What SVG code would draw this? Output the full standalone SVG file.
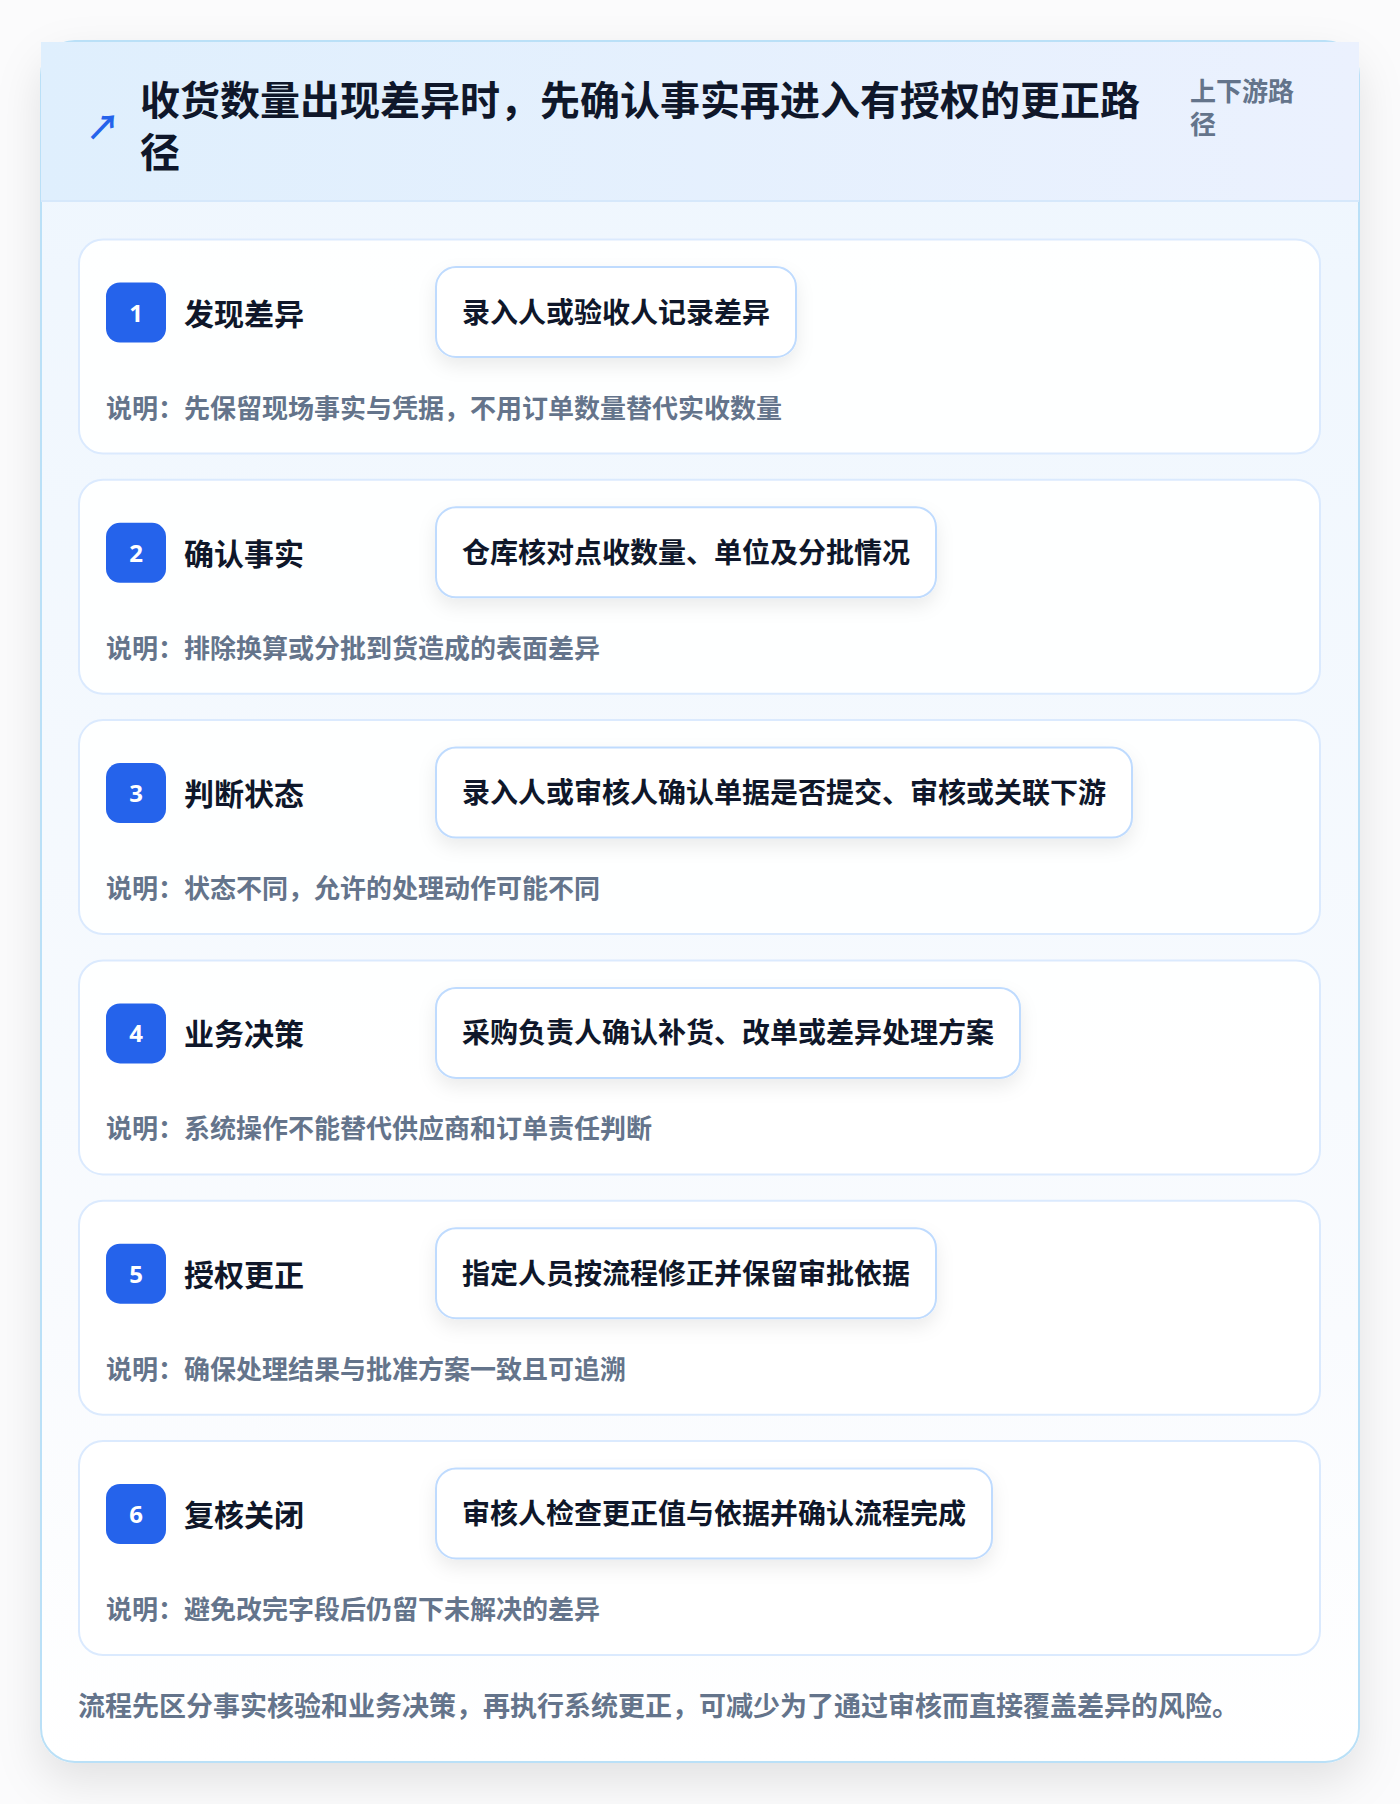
<svg xmlns="http://www.w3.org/2000/svg" width="1400" height="1804" viewBox="0 0 1400 1804">
<defs>
<linearGradient id="hdrGrad" x1="0" y1="0" x2="1" y2="0">
<stop offset="0" stop-color="#dfeffd"/>
<stop offset="1" stop-color="#ebf1fe"/>
</linearGradient>
<linearGradient id="bodyGrad" x1="0" y1="0" x2="0" y2="1">
<stop offset="0" stop-color="#eef6fe"/>
<stop offset="0.75" stop-color="#f9fbfe"/>
<stop offset="1" stop-color="#ffffff"/>
</linearGradient>
<filter id="cardShadow" x="-10%" y="-10%" width="120%" height="120%">
<feDropShadow dx="0" dy="18" stdDeviation="22" flood-color="#000000" flood-opacity="0.10"/>
</filter>
<filter id="boxShadow" x="-20%" y="-40%" width="140%" height="200%">
<feDropShadow dx="0" dy="8" stdDeviation="9" flood-color="#0f172a" flood-opacity="0.08"/>
</filter>
<style>
.t{font-family:"Noto Sans CJK SC","Noto Sans",sans-serif;font-weight:700}
.title{font-size:40px;fill:#0f172a}
.sub{font-size:26px;fill:#64748b}
.step{fill:#ffffff;fill-opacity:0.9;stroke:#dbeafe;stroke-width:2}
.badge{fill:#2563eb}
.num{font-size:24px;fill:#ffffff;font-family:"Noto Sans","Liberation Sans",sans-serif;font-weight:700}
.stitle{font-size:30px;fill:#0f172a}
.abox{fill:#ffffff;stroke:#bfdbfe;stroke-width:2}
.atext{font-size:28px;fill:#0f172a}
.desc{font-size:26px;fill:#64748b}
.foot{font-size:27px;fill:#64748b}
</style>
</defs>
<rect x="0" y="0" width="1400" height="1804" fill="#fbfbfc"/>
<g id="frame">
<rect x="41" y="41" width="1318" height="1721" rx="34" fill="url(#bodyGrad)" stroke="#bae0f7" stroke-width="2" filter="url(#cardShadow)"/>
<rect x="41" y="42" width="1318" height="159" fill="url(#hdrGrad)"/>
<line x1="41" y1="201" x2="1359" y2="201" stroke="#d6e8fb" stroke-width="2"/>
<text class="t" x="86" y="140" font-size="34" fill="#2563eb" font-family="DejaVu Sans, sans-serif">↗</text>
<text class="t title"><tspan x="140" y="115">收货数量出现差异时，先确认事实再进入有授权的更正路</tspan><tspan x="140" y="167">径</tspan></text>
<text class="t sub"><tspan x="1190" y="101">上下游路</tspan><tspan x="1190" y="134">径</tspan></text>
</g>
<g id="connectors"></g>
<g id="step1" transform="translate(0,239.5)">
<rect class="step" x="79" y="0" width="1241" height="214" rx="24"/>
<rect class="badge" x="106" y="43" width="60" height="60" rx="14"/>
<text class="num" x="136" y="82" text-anchor="middle">1</text>
<text class="t stitle" x="184" y="85">发现差异</text>
<rect class="abox" x="436" y="27.5" width="360" height="90" rx="20" filter="url(#boxShadow)"/>
<text class="t atext" x="462" y="83">录入人或验收人记录差异</text>
<text class="t desc" x="106" y="178">说明：先保留现场事实与凭据，不用订单数量替代实收数量</text>
</g>
<g id="step2" transform="translate(0,479.8)">
<rect class="step" x="79" y="0" width="1241" height="214" rx="24"/>
<rect class="badge" x="106" y="43" width="60" height="60" rx="14"/>
<text class="num" x="136" y="82" text-anchor="middle">2</text>
<text class="t stitle" x="184" y="85">确认事实</text>
<rect class="abox" x="436" y="27.5" width="500" height="90" rx="20" filter="url(#boxShadow)"/>
<text class="t atext" x="462" y="83">仓库核对点收数量、单位及分批情况</text>
<text class="t desc" x="106" y="178">说明：排除换算或分批到货造成的表面差异</text>
</g>
<g id="step3" transform="translate(0,720.1)">
<rect class="step" x="79" y="0" width="1241" height="214" rx="24"/>
<rect class="badge" x="106" y="43" width="60" height="60" rx="14"/>
<text class="num" x="136" y="82" text-anchor="middle">3</text>
<text class="t stitle" x="184" y="85">判断状态</text>
<rect class="abox" x="436" y="27.5" width="696" height="90" rx="20" filter="url(#boxShadow)"/>
<text class="t atext" x="462" y="83">录入人或审核人确认单据是否提交、审核或关联下游</text>
<text class="t desc" x="106" y="178">说明：状态不同，允许的处理动作可能不同</text>
</g>
<g id="step4" transform="translate(0,960.4)">
<rect class="step" x="79" y="0" width="1241" height="214" rx="24"/>
<rect class="badge" x="106" y="43" width="60" height="60" rx="14"/>
<text class="num" x="136" y="82" text-anchor="middle">4</text>
<text class="t stitle" x="184" y="85">业务决策</text>
<rect class="abox" x="436" y="27.5" width="584" height="90" rx="20" filter="url(#boxShadow)"/>
<text class="t atext" x="462" y="83">采购负责人确认补货、改单或差异处理方案</text>
<text class="t desc" x="106" y="178">说明：系统操作不能替代供应商和订单责任判断</text>
</g>
<g id="step5" transform="translate(0,1200.7)">
<rect class="step" x="79" y="0" width="1241" height="214" rx="24"/>
<rect class="badge" x="106" y="43" width="60" height="60" rx="14"/>
<text class="num" x="136" y="82" text-anchor="middle">5</text>
<text class="t stitle" x="184" y="85">授权更正</text>
<rect class="abox" x="436" y="27.5" width="500" height="90" rx="20" filter="url(#boxShadow)"/>
<text class="t atext" x="462" y="83">指定人员按流程修正并保留审批依据</text>
<text class="t desc" x="106" y="178">说明：确保处理结果与批准方案一致且可追溯</text>
</g>
<g id="step6" transform="translate(0,1441)">
<rect class="step" x="79" y="0" width="1241" height="214" rx="24"/>
<rect class="badge" x="106" y="43" width="60" height="60" rx="14"/>
<text class="num" x="136" y="82" text-anchor="middle">6</text>
<text class="t stitle" x="184" y="85">复核关闭</text>
<rect class="abox" x="436" y="27.5" width="556" height="90" rx="20" filter="url(#boxShadow)"/>
<text class="t atext" x="462" y="83">审核人检查更正值与依据并确认流程完成</text>
<text class="t desc" x="106" y="178">说明：避免改完字段后仍留下未解决的差异</text>
</g>
<g id="footer">
<text class="t foot" x="78" y="1716">流程先区分事实核验和业务决策，再执行系统更正，可减少为了通过审核而直接覆盖差异的风险。</text>
</g>
</svg>
